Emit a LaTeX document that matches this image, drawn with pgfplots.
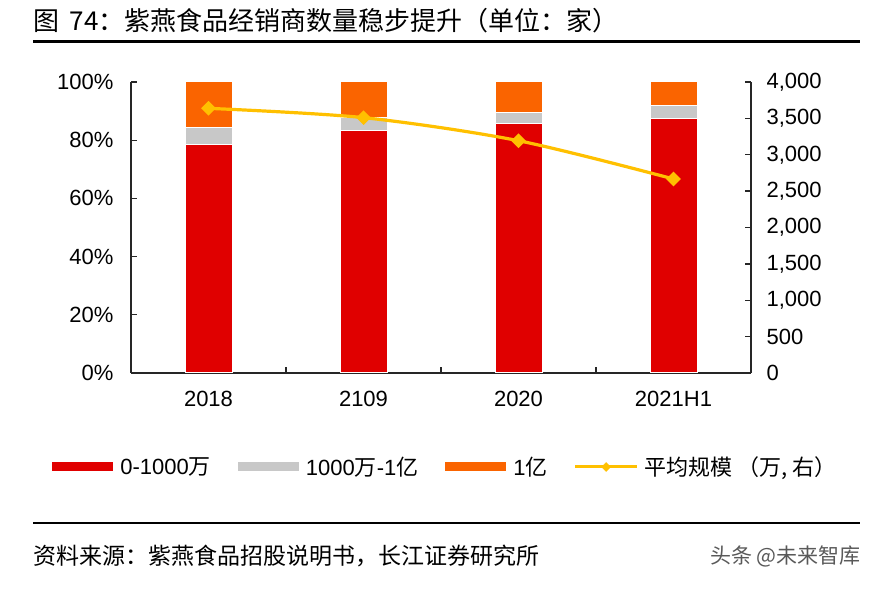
\documentclass[border=0pt]{standalone}
\usepackage{pgfplots}
\pgfplotsset{compat=1.18}
\usepackage{fontspec}
\setmainfont{Liberation Sans}
\newfontfamily\cjk{Noto Sans CJK SC}
\definecolor{cred}{HTML}{E00000}
\definecolor{cgray}{HTML}{C8C8C8}
\definecolor{corange}{HTML}{FA6400}
\definecolor{cyellow}{HTML}{FFC000}
\begin{document}
\begin{tikzpicture}
\path[use as bounding box] (0pt,0pt) rectangle (883pt,589pt);
\node[anchor=base west, inner sep=0, font=\cjk\fontsize{26}{30}\selectfont] at (33pt,558.5pt) {图\hspace{0.4em}74：紫燕食品经销商数量稳步提升（单位：家）};
\draw[line width=3pt] (33pt,547pt) -- (860pt,547pt);
\draw[line width=2pt] (33pt,66pt) -- (860pt,66pt);
\node[anchor=base west, inner sep=0, font=\cjk\fontsize{23}{26}\selectfont] at (33pt,24pt) {资料来源：紫燕食品招股说明书，长江证券研究所};
\node[anchor=base west, inner sep=0, font=\cjk\fontsize{21}{24}\selectfont, text=black!65] at (710pt,26pt) {头条 @未来智库};

\begin{axis}[
  at={(131pt,216pt)}, anchor=south west, scale only axis,
  width=620pt, height=291pt,
  ybar stacked, bar width=47pt,
  xmin=-0.5, xmax=3.5, ymin=0, ymax=100,
  axis x line*=bottom, axis y line*=left,
  axis line style={-, line width=1.3pt, black!85},
  tick style={line width=1.3pt, black!85},
  tick align=inside, major tick length=6pt,
  xtick={-0.5,0.5,1.5,2.5,3.5}, xticklabel=\empty,
  extra x ticks={0,1,2,3},
  extra x tick labels={2018,2109,2020,2021H1},
  extra x tick style={major tick length=0pt, xticklabel style={yshift=-15pt}},
  ytick={0,20,...,100},
  yticklabel={\pgfmathprintnumber{\tick}\%},
  yticklabel style={xshift=-14pt},
  ticklabel style={font=\fontsize{22}{25}\selectfont},
  /pgf/number format/assume math mode=true,
  legend style={at={(0.506,-0.323)}, anchor=center, draw=none, fill=none,
    legend columns=4, font=\fontsize{22}{25}\selectfont,
    /tikz/every even column/.append style={column sep=24pt},
    /tikz/every odd column/.append style={column sep=4pt},
    legend cell align=left},
  area legend,
  legend image code/.code={\fill[#1] (0pt,-5pt) rectangle (62pt,5pt);},
]
\addplot+[fill=cred, draw=white, line width=1pt] coordinates {(0,78.6)(1,83.2)(2,85.6)(3,87.5)};
\addlegendentry{0-1000{\cjk 万}}
\addplot+[fill=cgray, draw=white, line width=1pt] coordinates {(0,5.8)(1,4.7)(2,4.0)(3,4.3)};
\addlegendentry{1000{\cjk 万}-1{\cjk 亿}}
\addplot+[fill=corange, draw=white, line width=1pt] coordinates {(0,15.6)(1,12.1)(2,10.4)(3,8.2)};
\addlegendentry{1{\cjk 亿}}
\addlegendimage{legend image code/.code={
  \draw[cyellow, line width=3pt] (0pt,0pt) -- (62pt,0pt);
  \fill[cyellow] (31pt,0pt) +(0pt,4.5pt) -- +(4.5pt,0pt) -- +(0pt,-4.5pt) -- +(-4.5pt,0pt) -- cycle;}}
\addlegendentry{\cjk 平均规模\hspace{0.2em}（万, 右）}
\end{axis}

\begin{axis}[
  at={(131pt,216pt)}, anchor=south west, scale only axis,
  width=620pt, height=291pt,
  xmin=-0.5, xmax=3.5, ymin=0, ymax=4000,
  axis y line*=right, hide x axis,
  axis line style={-, line width=1.3pt, black!85},
  tick style={line width=1.3pt, black!85},
  tick align=inside, major tick length=6pt,
  ytick={0,500,...,4000},
  yticklabel style={anchor=west, xshift=12pt, font=\fontsize{22}{25}\selectfont},
  /pgf/number format/assume math mode=true,
  /pgf/number format/1000 sep={,},
]
\addplot[smooth, color=cyellow, line width=3.2pt, mark=square*,
  mark options={rotate=45, solid, fill=cyellow}, mark size=3.6pt]
  coordinates {(0,3638)(1,3510)(2,3193)(3,2667)};
\end{axis}
\end{tikzpicture}
\end{document}
